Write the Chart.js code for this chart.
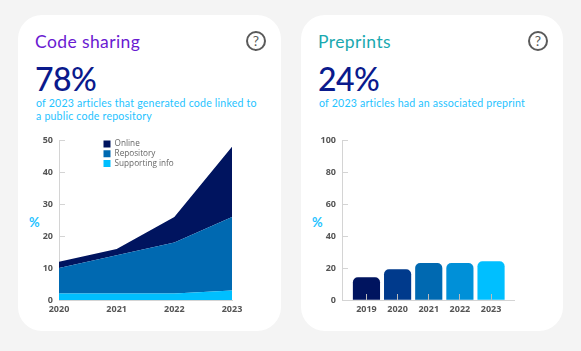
<!DOCTYPE html>
<html>
<head>
<meta charset="utf-8">
<script src="https://cdn.jsdelivr.net/npm/chart.js@4"></script>
<style>
  html, body { margin: 0; padding: 0; background: #f4f4f4; }
  body { width: 581px; height: 351px; position: relative; overflow: hidden; font-family: Lato, sans-serif; }
  .card { position: absolute; top: 15px; height: 316px; background: #fff; border-radius: 24px; }
  .abs { position: absolute; white-space: nowrap; }
  .title { top: 32px; font-size: 17.5px; line-height: 20px; letter-spacing: .4px; }
  .big { top: 60px; font-size: 32px; line-height: 38px; color: #0a1a8c; font-weight: 500; letter-spacing: -.6px; }
  .sub { font-size: 10.6px; line-height: 13px; color: #1fc3ff; letter-spacing: .2px; }
  .help { top: 31px; width: 16px; height: 16px; border: 2px solid #5a5a5a; border-radius: 50%; text-align: center;
          font-size: 14px; line-height: 16px; color: #5a5a5a; font-weight: 400; }
  .pct { top: 215px; font-size: 13px; line-height: 14px; font-weight: 700; color: #1fc3ff; }
  canvas { position: absolute; }
</style>
</head>
<body>
<div class="card" style="left:18px;width:263px"></div>
<div class="card" style="left:301px;width:262px"></div>

<div class="abs title" style="left:35px;color:#6a1bd1">Code sharing</div>
<div class="abs help" style="left:246px">?</div>
<div class="abs big" style="left:35px">78%</div>
<div class="abs sub" style="left:36px;top:97px">of 2023 articles that generated code linked to</div>
<div class="abs sub" style="left:36px;top:110px">a public code repository</div>
<div class="abs pct" style="left:29px">%</div>

<div class="abs title" style="left:318px;color:#1aa9b0">Preprints</div>
<div class="abs help" style="left:528px">?</div>
<div class="abs big" style="left:318px">24%</div>
<div class="abs sub" style="left:319px;top:97px">of 2023 articles had an associated preprint</div>
<div class="abs pct" style="left:312px">%</div>

<div style="position:absolute;left:18px;top:123px;width:263px;height:202px"><canvas id="code_chart"></canvas></div>
<div style="position:absolute;left:301px;top:123px;width:262px;height:202px"><canvas id="preprint_chart"></canvas></div>

<script>
// values
const codeYears = ['2020', '2021', '2022', '2023'];
const supportingInfo = [2, 2, 2, 3];
const repository = [8, 12, 16, 23];
const online = [2, 2, 8, 22];
const codeTicks = [0, 10, 20, 30, 40, 50];

const preprintYears = [2019, 2020, 2021, 2022, 2023];
const preprintValues = [14, 19, 23, 23, 24];
const preprintColors = ['#00145f', '#003a8c', '#0069b1', '#0090d8', '#00bfff'];

const tickFont = { family: 'Open Sans', size: 9, weight: '700' };
const tickColor = '#555';
const axisColor = '#d4d4d4';

// the legend sits inside the plot, Chart.js has no option for the offset
const legendInside = {
  id: 'legendInside',
  beforeDraw(chart) {
    if (!chart.legend) return;
    chart.legend.left = chart.scales.x.left + 43;
    chart.legend.top = chart.scales.y.top - 2;
  }
};

new Chart(document.getElementById('code_chart'), {
  type: 'line',
  data: {
    labels: codeYears,
    datasets: [
      { label: 'Supporting info', data: supportingInfo, backgroundColor: '#00bfff', fill: 'origin' },
      { label: 'Repository', data: repository, backgroundColor: '#0069b1', fill: '-1' },
      { label: 'Online', data: online, backgroundColor: '#00145f', fill: '-1' }
    ]
  },
  plugins: [legendInside],
  options: {
    responsive: true,
    maintainAspectRatio: false,
    animation: false,
    layout: { padding: { top: 0, right: 49, left: 0, bottom: 0 } },
    elements: { point: { radius: 0 }, line: { borderWidth: 0, tension: 0 } },
    scales: {
      x: {
        stacked: true,
        grid: { display: false, drawTicks: false },
        border: { color: axisColor, width: 1 },
        ticks: { font: tickFont, color: tickColor, padding: 4, maxRotation: 0 },
        afterFit(scale) { scale.height = 25; }
      },
      y: {
        stacked: true,
        min: 0,
        max: 50,
        afterBuildTicks(scale) { scale.ticks = codeTicks.map(v => ({ value: v })); },
        grid: { drawOnChartArea: false, tickLength: -6, color: axisColor },
        border: { color: axisColor, width: 1 },
        ticks: { font: tickFont, color: tickColor, padding: 12 },
        afterFit(scale) { scale.width = 41; }
      }
    },
    plugins: {
      tooltip: { enabled: false },
      legend: {
        position: 'chartArea',
        align: 'start',
        reverse: true,
        labels: { boxWidth: 7, boxHeight: 7, padding: 1.5, color: '#666', font: { family: 'Open Sans', size: 8.2 } }
      }
    }
  }
});

new Chart(document.getElementById('preprint_chart'), {
  type: 'bar',
  data: {
    datasets: [{
      data: preprintYears.map((year, i) => ({ x: year, y: preprintValues[i] })),
      backgroundColor: preprintColors,
      borderRadius: { topLeft: 5, topRight: 5 },
      borderSkipped: 'bottom',
      barThickness: 26.5
    }]
  },
  options: {
    responsive: true,
    maintainAspectRatio: false,
    animation: false,
    layout: { padding: { top: 0, right: 49, left: 0, bottom: 0 } },
    scales: {
      x: {
        type: 'linear',
        offset: false,
        min: 2018.215,
        max: 2023.737,
        grid: { drawOnChartArea: false, offset: false, tickLength: -6, color: '#bbb', z: 1 },
        border: { color: axisColor, width: 1, z: 1 },
        ticks: {
          stepSize: 1,
          includeBounds: false,
          font: tickFont,
          color: tickColor,
          padding: 10,
          maxRotation: 0,
          callback: v => String(v)
        },
        afterFit(scale) { scale.height = 25; }
      },
      y: {
        min: 0,
        max: 100,
        grid: { drawOnChartArea: false, tickLength: -6, color: axisColor },
        border: { color: axisColor, width: 1 },
        ticks: { stepSize: 20, font: tickFont, color: tickColor, padding: 12 },
        afterFit(scale) { scale.width = 41; }
      }
    },
    plugins: { legend: { display: false }, tooltip: { enabled: false } }
  }
});
</script>
</body>
</html>
